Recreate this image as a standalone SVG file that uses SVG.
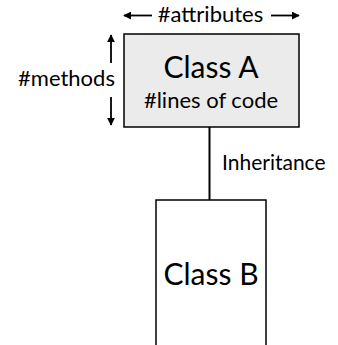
<svg xmlns="http://www.w3.org/2000/svg" width="338" height="345" viewBox="0 0 338 345">
  <defs>
    <marker id="arrow" viewBox="0 0 10 10" refX="9" refY="5" markerWidth="8" markerHeight="8" markerUnits="userSpaceOnUse" orient="auto">
      <path d="M0,0 L10,5 L0,10 z" fill="#000"/>
    </marker>
    <style>
      text { font-family: Lato, "Open Sans", sans-serif; fill: #000; }
      .big { font-size: 30px; }
      .small { font-size: 22px; }
      .dim { stroke: #000; stroke-width: 1.8; fill: none; marker-end: url(#arrow); }
      .box { stroke: #000; stroke-width: 1.5; }
    </style>
  </defs>
  <rect width="338" height="345" fill="#fff"/>

  <!-- size annotations -->
  <g id="attributes">
    <line class="dim" x1="152" y1="15.5" x2="124" y2="15.5"/>
    <line class="dim" x1="271" y1="15.5" x2="299" y2="15.5"/>
    <text class="small" x="210.5" y="22" text-anchor="middle">#attributes</text>
  </g>
  <g id="methods">
    <line class="dim" x1="111" y1="63" x2="111" y2="35"/>
    <line class="dim" x1="111" y1="97" x2="111" y2="125"/>
    <text class="small" x="66.5" y="86" text-anchor="middle">#methods</text>
  </g>

  <!-- connectors -->
  <g id="connectors">
    <line x1="209.5" y1="127" x2="209.5" y2="200" stroke="#000" stroke-width="2"/>
    <text x="222" y="170" style="font-size:21px">Inheritance</text>
  </g>

  <g id="classA">
    <rect class="box" x="124" y="34" width="175" height="93" fill="#ebebeb"/>
    <text class="big" x="211" y="78" text-anchor="middle">Class A</text>
    <text class="small" x="211" y="108" text-anchor="middle">#lines of code</text>
  </g>

  <g id="classB">
    <rect class="box" x="156" y="200" width="110" height="160" fill="#fff"/>
    <text class="big" x="211" y="285" text-anchor="middle">Class B</text>
  </g>
</svg>
